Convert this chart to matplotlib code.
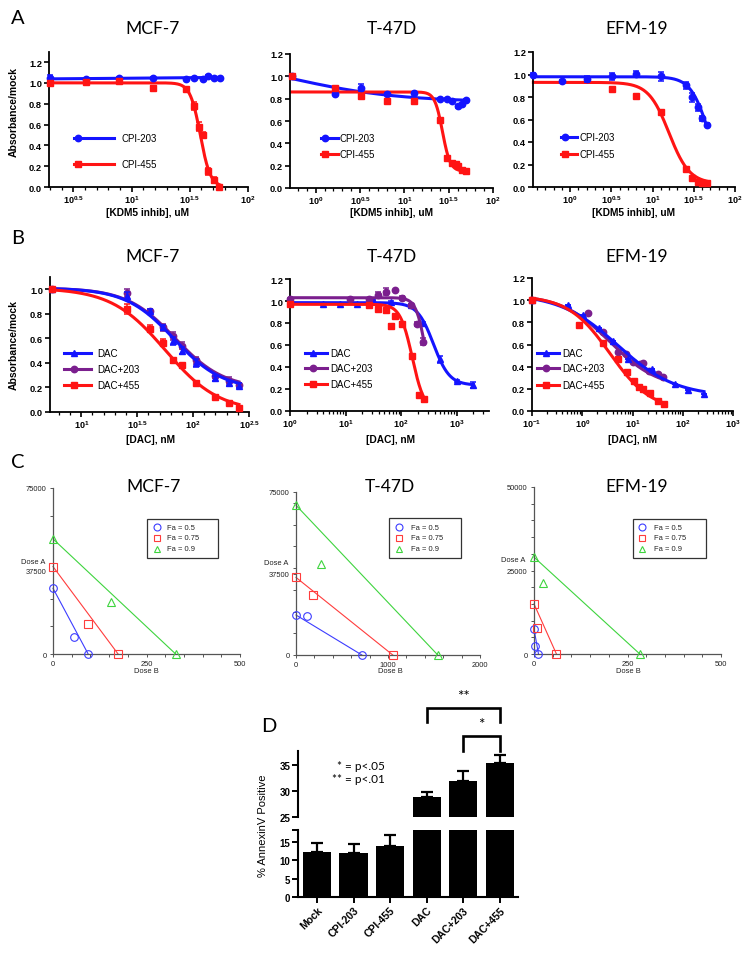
import numpy as np
import matplotlib
matplotlib.use('Agg')
import matplotlib.pyplot as plt
from matplotlib.lines import Line2D
from matplotlib.patches import Rectangle
from matplotlib.ticker import FixedLocator, NullFormatter, LogLocator

plt.rcParams['font.family'] = ['Liberation Sans', 'DejaVu Sans']
plt.rcParams['mathtext.fontset'] = 'custom'
plt.rcParams['mathtext.rm'] = 'Liberation Sans'
plt.rcParams['mathtext.bf'] = 'Liberation Sans:bold'
plt.rcParams['mathtext.default'] = 'bf'
TITLE_FONT = ['Lato', 'DejaVu Sans']

# ======================= DATA =======================
# ---- Panel A: KDM5 inhibitor dose response (log10 uM) ----
a_mcf7_203_log = [0.30, 0.61, 0.89, 1.18, 1.47, 1.54, 1.61, 1.66, 1.71, 1.76]
a_mcf7_203_y = [1.05, 1.04, 1.05, 1.045, 1.04, 1.05, 1.04, 1.07, 1.05, 1.05]
a_mcf7_203_err = [0.03, 0.01, 0.01, 0.01, 0.01, 0.01, 0.01, 0.01, 0.01, 0.01]
a_mcf7_455_log = [0.30, 0.61, 0.89, 1.18, 1.47, 1.54, 1.58, 1.61, 1.66, 1.71, 1.755]
a_mcf7_455_y = [1.0, 1.01, 1.015, 0.95, 0.94, 0.78, 0.58, 0.50, 0.15, 0.07, 0.0]
a_mcf7_455_err = [0.01, 0.01, 0.01, 0.02, 0.01, 0.04, 0.04, 0.03, 0.03, 0.03, 0.01]
a_mcf7_203_fit = (1.035, 1.055, 1.0, 1.0)      # top, bottom, logIC50, hill
a_mcf7_455_fit = (1.0, 0.0, 1.59, 10.0)

a_t47d_203_log = [-0.27, 0.22, 0.51, 0.80, 1.11, 1.40, 1.48, 1.54, 1.60, 1.65, 1.70]
a_t47d_203_y = [1.00, 0.84, 0.90, 0.84, 0.85, 0.80, 0.80, 0.78, 0.73, 0.75, 0.79]
a_t47d_203_err = [0.01, 0.01, 0.03, 0.01, 0.01, 0.01, 0.01, 0.01, 0.01, 0.01, 0.01]
a_t47d_455_log = [-0.27, 0.22, 0.51, 0.80, 1.11, 1.40, 1.48, 1.54, 1.58, 1.61, 1.65, 1.70]
a_t47d_455_y = [1.00, 0.90, 0.82, 0.78, 0.78, 0.61, 0.27, 0.22, 0.215, 0.20, 0.16, 0.15]
a_t47d_455_err = [0.01] * 12
a_t47d_203_fit = (1.2, 0.77, -0.3, 0.7)
a_t47d_455_fit = (0.86, 0.15, 1.43, 10.0)

a_efm_203_log = [-0.445, -0.10, 0.20, 0.51, 0.80, 1.10, 1.40, 1.48, 1.55, 1.60, 1.66]
a_efm_203_y = [1.0, 0.94, 0.96, 0.985, 1.005, 0.985, 0.905, 0.80, 0.71, 0.61, 0.555]
a_efm_203_err = [0.01, 0.01, 0.03, 0.03, 0.03, 0.04, 0.03, 0.04, 0.03, 0.02, 0.01]
a_efm_455_log = [0.51, 0.80, 1.10, 1.40, 1.48, 1.55, 1.60, 1.66]
a_efm_455_y = [0.87, 0.81, 0.67, 0.157, 0.083, 0.044, 0.04, 0.04]
a_efm_455_err = [0.01] * 8
a_efm_203_fit = (0.98, 0.0, 1.68, 4.0)
a_efm_455_fit = (0.93, 0.03, 1.2, 3.5)

# ---- Panel B: DAC dose response (log10 nM) ----
b_mcf7_log = [0.74, 1.41, 1.61, 1.73, 1.82, 1.90, 2.03, 2.20, 2.32, 2.41]
b_mcf7_dac_y = [1.0, 0.945, 0.82, 0.69, 0.58, 0.50, 0.40, 0.275, 0.235, 0.215]
b_mcf7_dac_err = [0.01, 0.03, 0.02, 0.02, 0.03, 0.03, 0.03, 0.02, 0.02, 0.02]
b_mcf7_203_y = [1.0, 0.97, 0.82, 0.69, 0.62, 0.54, 0.42, 0.295, 0.255, 0.22]
b_mcf7_203_err = [0.01, 0.03, 0.02, 0.03, 0.03, 0.03, 0.03, 0.02, 0.03, 0.02]
b_mcf7_455_y = [1.0, 0.84, 0.68, 0.565, 0.42, 0.38, 0.24, 0.125, 0.07, 0.03]
b_mcf7_455_err = [0.01, 0.04, 0.03, 0.03, 0.02, 0.01, 0.01, 0.01, 0.01, 0.01]
b_mcf7_dac_fit = (1.01, 0.18, 1.83, 2.0)
b_mcf7_203_fit = (1.01, 0.19, 1.84, 2.0)
b_mcf7_455_fit = (1.01, 0.0, 1.75, 1.8)

b_t47d_dac_log = [0.0, 0.60, 0.90, 1.20, 1.50, 1.81, 2.17, 2.40, 2.70, 3.01, 3.30]
b_t47d_dac_y = [1.0, 0.97, 0.97, 0.97, 1.01, 0.99, 0.96, 0.80, 0.47, 0.275, 0.235]
b_t47d_dac_err = [0.01, 0.01, 0.01, 0.01, 0.01, 0.01, 0.01, 0.01, 0.03, 0.01, 0.025]
b_t47d_203_log = [0.0, 1.08, 1.42, 1.58, 1.72, 1.88, 2.02, 2.17, 2.29, 2.40]
b_t47d_203_y = [1.02, 1.02, 1.02, 1.055, 1.085, 1.10, 1.03, 0.96, 0.79, 0.63]
b_t47d_203_err = [0.01, 0.01, 0.01, 0.03, 0.03, 0.0, 0.02, 0.01, 0.02, 0.03]
b_t47d_455_log = [0.0, 1.42, 1.58, 1.72, 1.81, 1.88, 2.02, 2.20, 2.32, 2.41]
b_t47d_455_y = [0.97, 0.965, 0.925, 0.915, 0.77, 0.865, 0.79, 0.50, 0.15, 0.105]
b_t47d_455_err = [0.01, 0.01, 0.01, 0.01, 0.02, 0.01, 0.02, 0.01, 0.01, 0.02]
b_t47d_dac_fit = (0.985, 0.235, 2.58, 3.0)
b_t47d_203_fit = (1.03, 0.0, 2.45, 5.0)
b_t47d_455_fit = (0.97, 0.0, 2.2, 4.0)

b_efm_dac_log = [-1.0, -0.28, 0.02, 0.33, 0.615, 0.91, 1.38, 1.84, 2.11, 2.42]
b_efm_dac_y = [1.0, 0.96, 0.87, 0.75, 0.63, 0.47, 0.38, 0.245, 0.19, 0.155]
b_efm_203_log = [-1.0, 0.12, 0.415, 0.71, 0.88, 1.01, 1.15, 1.21, 1.33, 1.51, 1.61]
b_efm_203_y = [1.0, 0.88, 0.71, 0.53, 0.51, 0.44, 0.425, 0.435, 0.36, 0.335, 0.305]
b_efm_455_log = [-1.0, -0.07, 0.415, 0.71, 0.90, 1.03, 1.13, 1.21, 1.35, 1.51, 1.62]
b_efm_455_y = [1.0, 0.78, 0.61, 0.47, 0.35, 0.27, 0.215, 0.20, 0.16, 0.087, 0.066]
b_efm_dac_fit = (1.06, 0.13, 0.7, 0.75)
b_efm_203_fit = (1.05, 0.2, 0.55, 0.9)
b_efm_455_fit = (1.04, 0.0, 0.55, 1.05)

# ---- Panel C: isobolograms (Dose B, Dose A) ----
fa_labels = ['Fa = 0.5', 'Fa = 0.75', 'Fa = 0.9']
c_mcf7_x = [[0, 55, 94], [0, 94, 174], [0, 156, 328]]
c_mcf7_y = [[29700, 7500, 0], [39500, 13600, 0], [52000, 23400, 0]]
c_t47d_x = [[0, 119, 716], [0, 181, 1052], [0, 271, 1541]]
c_t47d_y = [[18400, 17800, 0], [35700, 27500, 0], [68900, 41800, 0]]
c_efm_x = [[0, 2, 12], [0, 9, 60], [0, 24, 283]]
c_efm_y = [[7500, 2500, 0], [15000, 7700, 0], [29000, 21300, 0]]

# ---- Panel D: AnnexinV ----
d_groups = ['Mock', 'CPI-203', 'CPI-455', 'DAC', 'DAC+203', 'DAC+455']
d_values = [12.3, 12.0, 13.8, 28.85, 31.9, 35.45]
d_errors = [2.5, 2.4, 3.0, 1.05, 1.9, 1.45]

# ======================= FIGURE =======================
W, H = 751, 954
fig = plt.figure(figsize=(W / 100, H / 100), dpi=100)

BLUE = '#1414ff'
RED = '#ff1414'
PURPLE = '#7b1f8e'


def px_axes(l, t, r, b):
    return fig.add_axes([l / W, 1 - b / H, (r - l) / W, (b - t) / H])


def ftext(x, y, s, **kw):
    return fig.text(x / W, 1 - y / H, s, **kw)


def four_pl(lx, top, bottom, logic50, hill):
    return bottom + (top - bottom) / (1 + 10 ** ((lx - logic50) * hill))


def gp_axes(ax, ylim, yticks, xlim_log, xmajor, minor_mode):
    ax.set_xscale('log')
    ax.set_xlim(10 ** xlim_log[0], 10 ** xlim_log[1])
    ax.set_ylim(*ylim)
    ax.patch.set_alpha(0)
    for s in ['top', 'right']:
        ax.spines[s].set_visible(False)
    for s in ['left', 'bottom']:
        ax.spines[s].set_linewidth(1.3)
    ax.set_yticks(yticks)
    ax.set_yticklabels(['%.1f' % v for v in yticks], fontweight='bold', fontsize=6.7)
    ax.xaxis.set_major_locator(FixedLocator([10 ** v for v in xmajor]))
    labs = []
    for v in xmajor:
        if float(v).is_integer():
            labs.append(r'$10^{%d}$' % int(v))
        else:
            labs.append(r'$10^{%g}$' % v)
    ax.set_xticklabels(labs, fontsize=6.5)
    if minor_mode == 'tenth':
        ax.xaxis.set_minor_locator(FixedLocator(10 ** np.arange(np.ceil(xlim_log[0] * 10) / 10,
                                                                 xlim_log[1] + 1e-6, 0.1)))
    else:
        ax.xaxis.set_minor_locator(LogLocator(base=10, subs=np.arange(2, 10)))
    ax.xaxis.set_minor_formatter(NullFormatter())
    ax.tick_params(which='major', length=3.5, width=1.2, pad=1.5)
    ax.tick_params(axis='x', which='major', pad=1.0)
    ax.tick_params(which='minor', length=2, width=0.9)


def series(ax, logx, y, err, color, marker, fit, ms=4.6, zc=2):
    lx = np.asarray(logx)
    xs = np.linspace(lx.min(), lx.max(), 300)
    ax.plot(10 ** xs, four_pl(xs, *fit), color=color, lw=2.2, zorder=zc, clip_on=False)
    cont = ax.errorbar(10 ** lx, y, yerr=err, fmt=marker, color=color, ms=ms, capsize=2.4,
                       elinewidth=1.1, capthick=1.1, zorder=zc + 1)
    for art in cont.get_children():
        art.set_clip_on(False)


def gp_legend(items, x0, x1, xm, xt, ys, fs=7):
    for (label, color, marker), y in zip(items, ys):
        fy = 1 - y / H
        fig.add_artist(Line2D([x0 / W, x1 / W], [fy, fy], color=color, lw=2.2,
                              transform=fig.transFigure))
        fig.add_artist(Line2D([xm / W], [fy], marker=marker, ms=4.6, color=color, lw=0,
                              transform=fig.transFigure))
        ftext(xt, y, label, fontsize=fs, va='center', ha='left')


# ---------- Panel letters & titles ----------
for letter, (lx, ly) in zip('ABC', [(18, 18), (18, 238), (18, 463)]):
    ftext(lx, ly, letter, fontsize=14.5, family=TITLE_FONT, ha='center', va='center')
ftext(269, 727, 'D', fontsize=14.5, family=TITLE_FONT, ha='center', va='center')

cells = ['MCF-7', 'T-47D', 'EFM-19']
for name, x in zip(cells, [153, 392, 637]):
    ftext(x, 29, name, fontsize=12.5, family=TITLE_FONT, ha='center', va='center')
    ftext(x, 257, name, fontsize=12.5, family=TITLE_FONT, ha='center', va='center')
for name, x in zip(cells, [154, 390, 637]):
    ftext(x, 487, name, fontsize=12.5, family=TITLE_FONT, ha='center', va='center')

# ---------- Row A ----------
axA1 = px_axes(49, 52.6, 248, 188)
gp_axes(axA1, (0, 1.3), [0, 0.2, 0.4, 0.6, 0.8, 1.0, 1.2], (0.29, 2.0), [0.5, 1, 1.5, 2], 'tenth')
series(axA1, a_mcf7_203_log, a_mcf7_203_y, a_mcf7_203_err, BLUE, 'o', a_mcf7_203_fit)
series(axA1, a_mcf7_455_log, a_mcf7_455_y, a_mcf7_455_err, RED, 's', a_mcf7_455_fit)

axA2 = px_axes(290, 55, 493, 189)
gp_axes(axA2, (0, 1.2), [0, 0.2, 0.4, 0.6, 0.8, 1.0, 1.2], (-0.29, 2.0), [0, 0.5, 1, 1.5, 2], 'tenth')
series(axA2, a_t47d_203_log, a_t47d_203_y, a_t47d_203_err, BLUE, 'o', a_t47d_203_fit)
series(axA2, a_t47d_455_log, a_t47d_455_y, a_t47d_455_err, RED, 's', a_t47d_455_fit)

axA3 = px_axes(533, 53, 735, 188)
gp_axes(axA3, (0, 1.2), [0, 0.2, 0.4, 0.6, 0.8, 1.0, 1.2], (-0.45, 2.0), [0, 0.5, 1, 1.5, 2], 'tenth')
series(axA3, a_efm_203_log, a_efm_203_y, a_efm_203_err, BLUE, 'o', a_efm_203_fit)
xs_efm = np.linspace(-0.445, max(a_efm_455_log), 300)
axA3.plot(10 ** xs_efm, four_pl(xs_efm, *a_efm_455_fit), color=RED, lw=2.2, zorder=2, clip_on=False)
cA = axA3.errorbar(10 ** np.array(a_efm_455_log), a_efm_455_y, yerr=a_efm_455_err, fmt='s', color=RED,
                   ms=4.6, capsize=2.4, elinewidth=1.1, capthick=1.1, zorder=3)
for art in cA.get_children():
    art.set_clip_on(False)

a_items = [('CPI-203', BLUE, 'o'), ('CPI-455', RED, 's')]
gp_legend(a_items, 74, 114, 78, 121, [139, 165])
gp_legend(a_items, 321, 338, 325, 340, [139, 155])
gp_legend(a_items, 561, 577, 565, 579, [138, 155])

ftext(14, 112, 'Absorbance/mock', fontsize=7.5, fontweight='bold', rotation=90,
      ha='center', va='center')
for cx in [148, 391, 634]:
    ftext(cx, 213, '[KDM5 inhib], uM', fontsize=7.3, fontweight='bold', ha='center', va='center')

# ---------- Row B ----------
axB1 = px_axes(50, 278, 249, 413)
gp_axes(axB1, (0, 1.1), [0, 0.2, 0.4, 0.6, 0.8, 1.0], (0.72, 2.5), [1, 1.5, 2, 2.5], 'tenth')
series(axB1, b_mcf7_log, b_mcf7_203_y, b_mcf7_203_err, PURPLE, 'o', b_mcf7_203_fit, zc=2)
series(axB1, b_mcf7_log, b_mcf7_dac_y, b_mcf7_dac_err, BLUE, '^', b_mcf7_dac_fit, zc=4)
series(axB1, b_mcf7_log, b_mcf7_455_y, b_mcf7_455_err, RED, 's', b_mcf7_455_fit, zc=6)

axB2 = px_axes(290, 280, 489, 412)
gp_axes(axB2, (0, 1.2), [0, 0.2, 0.4, 0.6, 0.8, 1.0, 1.2], (0.0, 3.58), [0, 1, 2, 3], 'log')
series(axB2, b_t47d_dac_log, b_t47d_dac_y, b_t47d_dac_err, BLUE, '^', b_t47d_dac_fit, zc=2)
series(axB2, b_t47d_203_log, b_t47d_203_y, b_t47d_203_err, PURPLE, 'o', b_t47d_203_fit, zc=4)
series(axB2, b_t47d_455_log, b_t47d_455_y, b_t47d_455_err, RED, 's', b_t47d_455_fit, zc=6)

axB3 = px_axes(532, 279, 733, 412)
gp_axes(axB3, (0, 1.2), [0, 0.2, 0.4, 0.6, 0.8, 1.0, 1.2], (-1.0, 3.0), [-1, 0, 1, 2, 3], 'log')
series(axB3, b_efm_203_log, b_efm_203_y, [0] * len(b_efm_203_y), PURPLE, 'o', b_efm_203_fit, zc=2)
series(axB3, b_efm_dac_log, b_efm_dac_y, [0] * len(b_efm_dac_y), BLUE, '^', b_efm_dac_fit, zc=4)
series(axB3, b_efm_455_log, b_efm_455_y, [0] * len(b_efm_455_y), RED, 's', b_efm_455_fit, zc=6)

b_items = [('DAC', BLUE, '^'), ('DAC+203', PURPLE, 'o'), ('DAC+455', RED, 's')]
gp_legend(b_items, 64, 91, 74, 97, [354, 370, 386])
gp_legend(b_items, 305, 327, 313, 330, [354, 369, 385])
gp_legend(b_items, 537, 559, 546, 562, [354, 369, 386])

ftext(14, 345, 'Absorbance/mock', fontsize=7.5, fontweight='bold', rotation=90,
      ha='center', va='center')
for cx in [150, 390, 633]:
    ftext(cx, 440, '[DAC], nM', fontsize=7.3, fontweight='bold', ha='center', va='center')

# ---------- Row C ----------
C_COLORS = ['#3c3cff', '#ff3c3c', '#3ed43e']
C_MARKERS = ['o', 's', '^']


def cs_axes(ax, xmax, ymax, xminor, yminor):
    ax.set_xlim(0, xmax)
    ax.set_ylim(0, ymax)
    ax.patch.set_alpha(0)
    for s in ['top', 'right']:
        ax.spines[s].set_visible(False)
    for s in ['left', 'bottom']:
        ax.spines[s].set_color('#555555')
        ax.spines[s].set_linewidth(0.9)
    ax.set_xticks([0, xmax / 2, xmax])
    ax.set_xticklabels(['0', '%d' % (xmax / 2), '%d' % xmax])
    ax.set_yticks([0, ymax / 2, ymax])
    ax.set_yticklabels(['0', '%d' % (ymax / 2), '%d' % ymax])
    ax.xaxis.set_minor_locator(FixedLocator(np.arange(0, xmax + 1, xminor)))
    ax.yaxis.set_minor_locator(FixedLocator(np.arange(0, ymax + 1, yminor)))
    ax.tick_params(which='both', labelsize=5.4, colors='#555555', labelcolor='#222222',
                   length=2.5, width=0.7, pad=2)


def cs_draw(ax, xs, ys):
    for xl, yl, col, mk in zip(xs, ys, C_COLORS, C_MARKERS):
        ax.plot([xl[0], xl[-1]], [yl[0], yl[-1]], color=col, lw=0.8, zorder=2, clip_on=False)
        ax.plot(xl, yl, ls='none', marker=mk, ms=5.5, mfc='none', mec=col, mew=0.8,
                zorder=3, clip_on=False)


def cs_legend(box, mx, tx, ys):
    l, t, r, b = box
    fig.add_artist(Rectangle((l / W, 1 - b / H), (r - l) / W, (b - t) / H, fill=False,
                             ec='#333333', lw=0.9, transform=fig.transFigure))
    for lab, col, mk, y in zip(fa_labels, C_COLORS, C_MARKERS, ys):
        fig.add_artist(Line2D([mx / W], [1 - y / H], marker=mk, ms=5.0, mfc='none', mec=col,
                              mew=0.8, lw=0, transform=fig.transFigure))
        ftext(tx, y, lab, fontsize=5.4, color='#222222', ha='left', va='center')


axC1 = px_axes(53, 489, 240, 655)
cs_axes(axC1, 500, 75000, 50, 12500)
cs_draw(axC1, c_mcf7_x, c_mcf7_y)
cs_legend((147, 520, 218, 559), 157, 167, [528, 539, 550])

axC2 = px_axes(296, 493, 480, 656)
cs_axes(axC2, 2000, 75000, 200, 10000)
cs_draw(axC2, c_t47d_x, c_t47d_y)
cs_legend((389, 519, 461, 559), 399, 411, [528, 539, 550])

axC3 = px_axes(534, 488, 721, 655)
cs_axes(axC3, 500, 50000, 50, 5000)
cs_draw(axC3, c_efm_x, c_efm_y)
cs_legend((633, 520, 706, 559), 642, 654, [528, 539, 550])

for x, y in [(33, 562), (276, 564), (513, 561)]:
    ftext(x, y, 'Dose A', fontsize=5.4, color='#222222', ha='center', va='center')
for x in [146, 390, 628]:
    ftext(x, 672, 'Dose B', fontsize=5.4, color='#222222', ha='center', va='center')

# ---------- Panel D ----------
xpos = np.arange(len(d_groups))
zeros = np.zeros(len(d_values))

axDl = px_axes(298, 831, 518, 898)
axDu = px_axes(298, 752, 518, 818)
for ax, ylim in [(axDl, (0, 18.3)), (axDu, (25, 37.7))]:
    ax.bar(xpos, d_values, width=0.77, color='black', zorder=2)
    ax.errorbar(xpos, d_values, yerr=[zeros, d_errors], fmt='none', ecolor='black',
                capsize=4.5, elinewidth=1.6, capthick=1.6, zorder=1)
    ax.set_xlim(-0.52, 5.5)
    ax.set_ylim(*ylim)
    ax.patch.set_alpha(0)
    for s in ['top', 'right']:
        ax.spines[s].set_visible(False)
    ax.spines['left'].set_linewidth(1.5)
    ax.spines['bottom'].set_linewidth(1.5)
    ax.tick_params(which='major', length=4, width=1.4, labelsize=7, pad=1.5)

axDu.spines['bottom'].set_visible(False)
axDu.set_xticks([])
axDu.set_yticks([25, 30, 35])
axDu.set_yticklabels(['25', '30', '35'], fontweight='bold')
axDl.set_yticks([0, 5, 10, 15, 18.3])
axDl.set_yticklabels(['0', '5', '10', '15', ''], fontweight='bold')
axDl.set_xticks(xpos)
axDl.set_xticklabels(d_groups, rotation=45, ha='right', rotation_mode='anchor',
                     fontweight='bold', fontsize=7.5)

ftext(263, 826, '% AnnexinV Positive', fontsize=8, rotation=90, ha='center', va='center')

br = dict(color='black', lw=1.9, clip_on=False, solid_joinstyle='miter')
axDu.plot([3, 3, 5, 5], [43.3, 45.96, 45.96, 43.3], **br)
axDu.plot([4, 4, 5, 5], [37.7, 40.6, 40.6, 37.7], **br)
axDu.text(4.0, 48.3, '**', fontsize=11, family=TITLE_FONT, ha='center', va='center')
axDu.text(4.5, 42.9, '*', fontsize=11, family=TITLE_FONT, ha='center', va='center')
axDu.text(1.86, 35.0, '* = p<.05', fontsize=8.5, family=TITLE_FONT, ha='right', va='center')
axDu.text(1.86, 32.5, '** = p<.01', fontsize=8.5, family=TITLE_FONT, ha='right', va='center')

fig.savefig('out.png', dpi=100)
